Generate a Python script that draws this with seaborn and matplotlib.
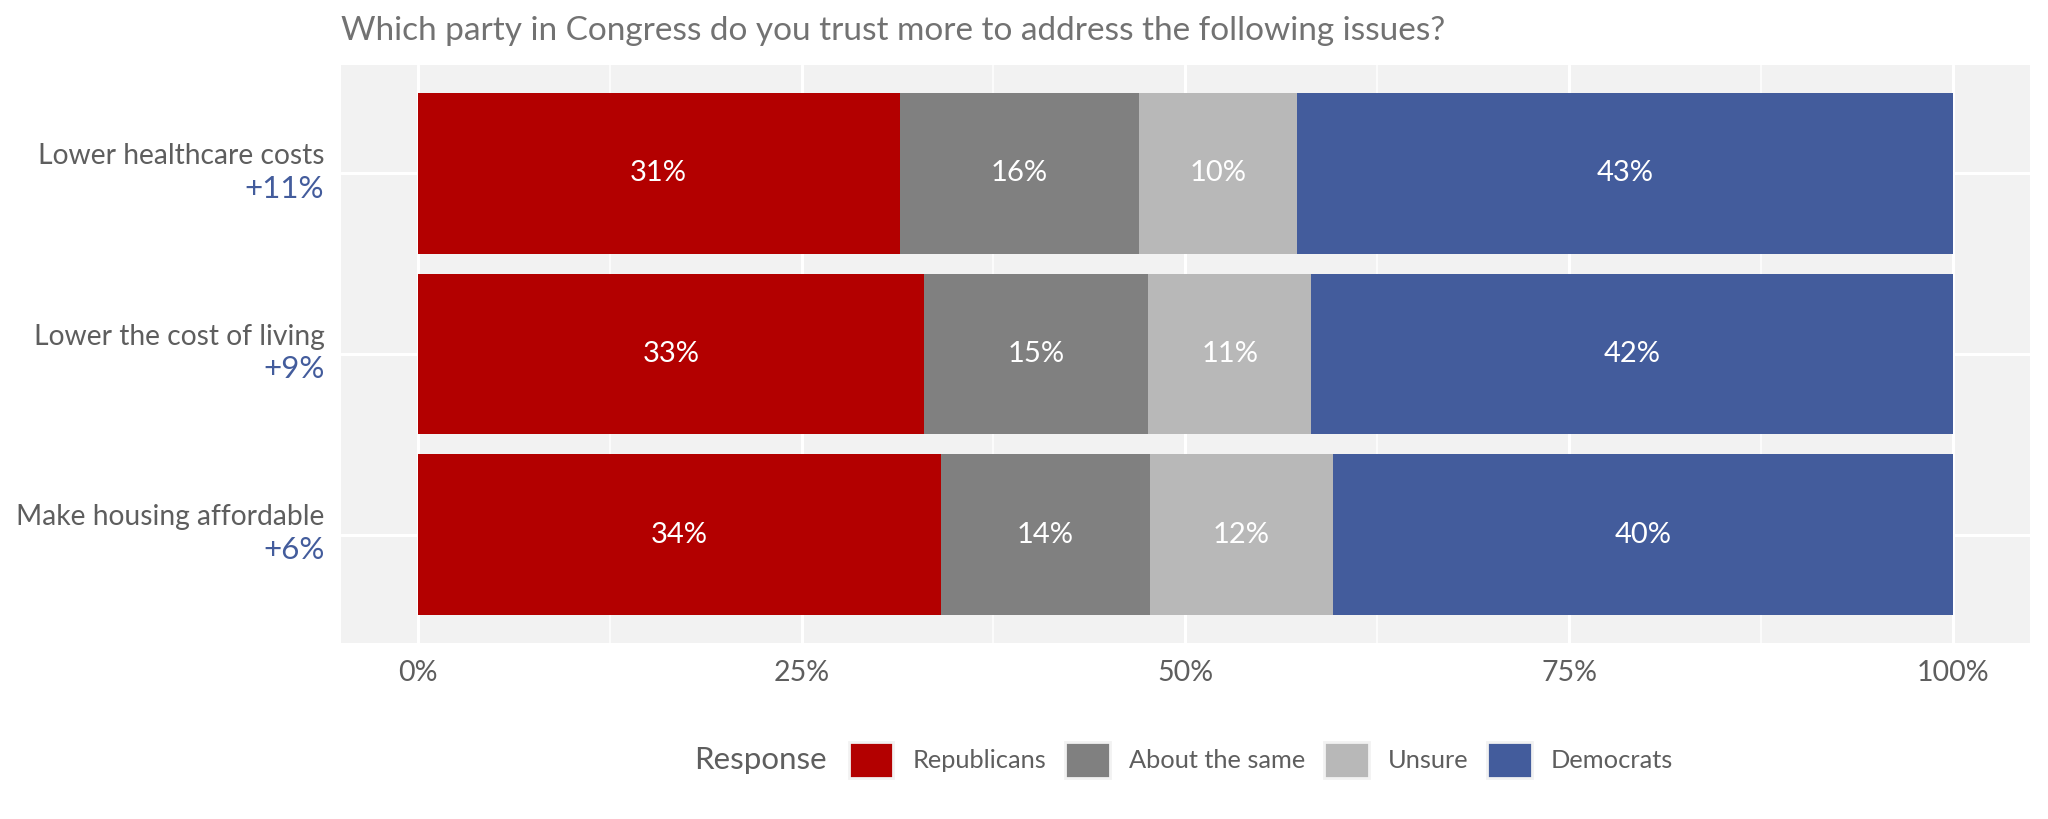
import numpy as np
import pandas as pd
import matplotlib.pyplot as plt
import seaborn as sns
from matplotlib.patches import Patch
from matplotlib.ticker import MultipleLocator, FuncFormatter

# Data (percent of respondents)
categories = ["Lower healthcare costs", "Lower the cost of living", "Make housing affordable"]
republicans = [31.4, 33.0, 34.1]
about_same = [15.6, 14.6, 13.6]
unsure = [10.3, 10.6, 11.9]
democrats = [42.7, 41.8, 40.4]

responses = ["Republicans", "About the same", "Unsure", "Democrats"]
colors = ["#B30000", "#808080", "#B8B8B8", "#435C9C"]

df = pd.DataFrame({"issue": categories,
                   "Republicans": republicans,
                   "About the same": about_same,
                   "Unsure": unsure,
                   "Democrats": democrats})

sns.set_theme(style="white")
plt.rcParams['font.family'] = ['Lato', 'DejaVu Sans']
text_grey = "#5E5E5E"

fig = plt.figure(figsize=(20.48, 8.19), dpi=100)
ax = fig.add_axes([0.1665, 0.2149, 0.991 - 0.1665, 0.9206 - 0.2149])
ax.set_facecolor("#F2F2F2")

# stacked bars: draw cumulative totals from the right-most segment down
cum = df[responses].cumsum(axis=1)
for resp, col in reversed(list(zip(responses, colors))):
    sns.barplot(x=cum[resp], y=df["issue"], orient="h", color=col,
                width=0.89, saturation=1, linewidth=0, ax=ax, zorder=2)

# segment labels
for i in range(len(categories)):
    left = 0
    for resp in responses:
        v = df.loc[i, resp]
        ax.text(left + v / 2, i, f"{round(v)}%", ha="center", va="center",
                color="white", fontsize=21, zorder=3)
        left += v

ax.set_xlim(-5, 105)
ax.set_ylim(2.6, -0.6)
ax.xaxis.set_major_locator(MultipleLocator(25))
ax.xaxis.set_minor_locator(MultipleLocator(12.5))
ax.xaxis.set_major_formatter(FuncFormatter(lambda v, p: f"{v:.0f}%"))
ax.grid(which="major", color="white", linewidth=2.2, zorder=0)
ax.grid(which="minor", axis="x", color="white", linewidth=1.1, zorder=0)
ax.set_axisbelow(True)
ax.tick_params(axis="both", which="both", length=0)
ax.tick_params(axis="x", labelsize=20.5, labelcolor=text_grey, pad=12)
ax.set_yticks(range(len(categories)))
ax.set_yticklabels([])
ax.set_xlabel("")
ax.set_ylabel("")
for s in ax.spines.values():
    s.set_visible(False)

# y labels with Democratic margin underneath
ytrans = ax.get_yaxis_transform()
for i, cat in enumerate(categories):
    margin = democrats[i] - republicans[i]
    ax.annotate(cat, xy=(0, i), xycoords=ytrans, xytext=(-12, 3),
                textcoords="offset points", ha="right", va="bottom",
                fontsize=20.3, color=text_grey)
    ax.annotate(f"+{round(margin)}%", xy=(0, i), xycoords=ytrans, xytext=(-12, -1),
                textcoords="offset points", ha="right", va="top",
                fontsize=22.5, color="#435C9C")

fig.text(0.1665, 0.962, "Which party in Congress do you trust more to address the following issues?",
         ha="left", va="center", fontsize=24, color="#727272")

# legend with title on the left
handles = [Patch(facecolor=c, edgecolor="#F2F2F2", linewidth=2) for c in colors]
fig.legend(handles, responses, ncol=4, loc="center left",
           bbox_to_anchor=(849 / 2048, 1 - 760 / 819), frameon=False,
           fontsize=18.3, labelcolor=text_grey, handlelength=1.75, handleheight=1.75,
           handletextpad=0.75, columnspacing=0.75, borderpad=0, borderaxespad=0)
fig.text(827 / 2048, 1 - 760 / 819, "Response", ha="right", va="center",
         fontsize=22.5, color=text_grey)

fig.savefig("out.png", dpi=100)
